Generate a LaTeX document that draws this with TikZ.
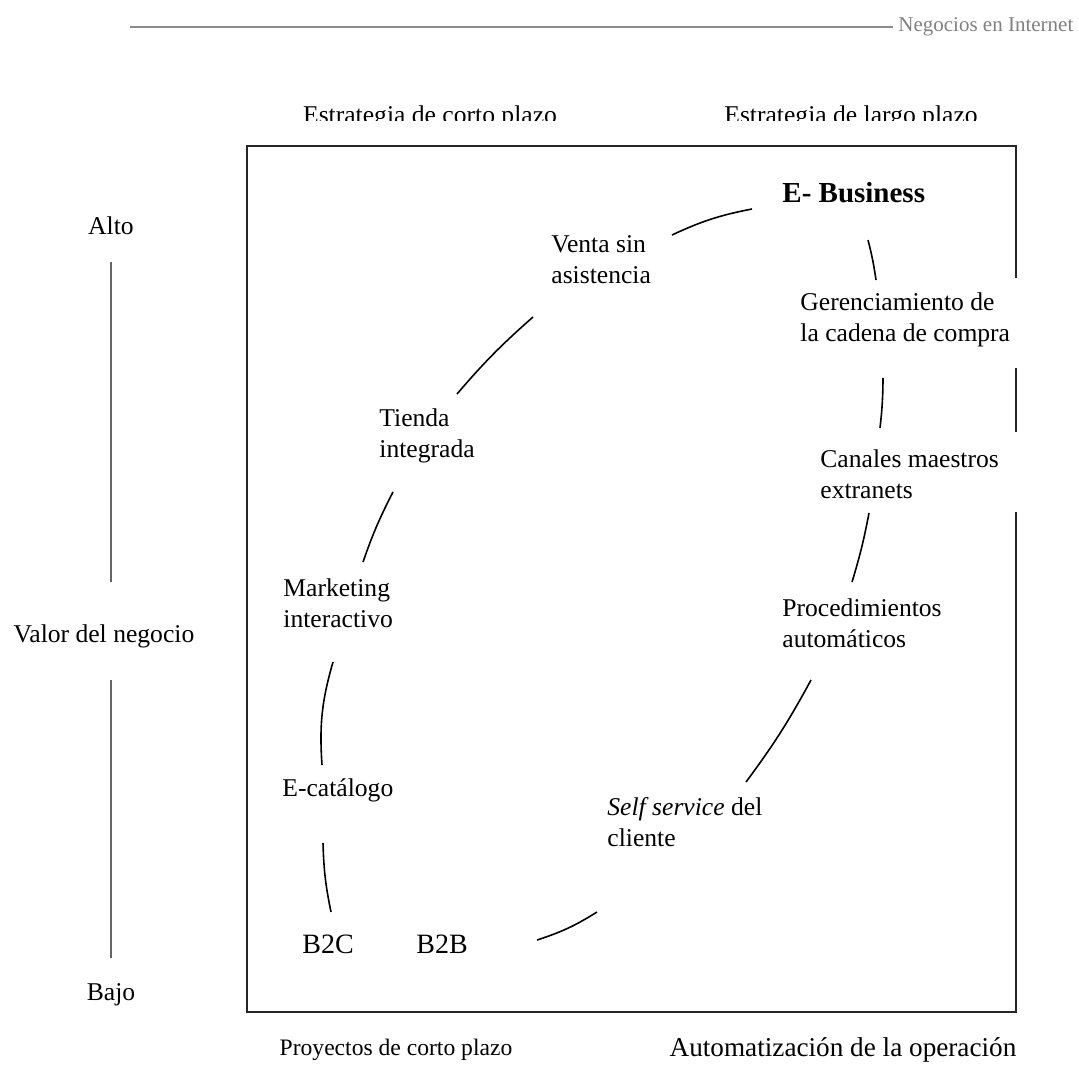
\documentclass[tikz,border=0pt]{standalone}
\usepackage{fontspec}
\setmainfont{Liberation Serif}
\usetikzlibrary{calc}
\tikzset{
  % plain text label, left aligned
  etiqueta/.style={anchor=west,inner sep=0pt,align=left,
    font=\fontsize{12.8}{15.5}\selectfont},
  % short arc between two stages
  tramo/.style={draw=black,line width=0.8pt},
  marco/.style={draw=black!85,line width=1.3pt},
  eje/.style={draw=black!60,line width=1.1pt},
}

\begin{document}
\begin{tikzpicture}[x=0.5pt,y=0.5pt]
\useasboundingbox (0,0) rectangle (1079,-1070);
% header
\draw[draw=black!45,line width=1pt] (130,-27) -- (893,-27);
\node[anchor=west,inner sep=0pt,text=black!50,font=\fontsize{10.5}{12}\selectfont]
  (cabecera) at (898,-27) {Negocios en Internet};
% frame with the gaps on the right
\path[marco] (1016,-278) -- (1016,-146) -- (247,-146) -- (247,-1012) -- (1016,-1012) -- (1016,-512);
\path[marco] (1016,-368) -- (1016,-432);
% top labels, cut at the bottom
\begin{scope}
  \clip (240,-90) rectangle (1020,-120.5);
  \node[anchor=base,inner sep=0pt,font=\fontsize{12.8}{15.5}\selectfont] (corto) at (430,-123) {Estrategia de corto plazo};
  \node[anchor=base,inner sep=0pt,font=\fontsize{12.8}{15.5}\selectfont] (largo) at (851,-123) {Estrategia de largo plazo};
\end{scope}
% value axis
\node[inner sep=0pt,font=\fontsize{12.8}{15.5}\selectfont] (alto) at (111,-226) {Alto};
\node[inner sep=0pt,font=\fontsize{12.8}{15.5}\selectfont] (valor) at (104,-636) {Valor del negocio};
\node[inner sep=0pt,font=\fontsize{12.8}{15.5}\selectfont] (bajo) at (111,-995) {Bajo};
\path[eje] (111,-262) -- (111,-582);
\path[eje] (111,-680) -- (111,-958);
% stages
\node[etiqueta,font=\fontsize{14.5}{17}\selectfont\bfseries] (ebiz) at (782,-193) {E- Business};
\node[etiqueta] (venta) at (551,-260) {Venta sin\\asistencia};
\node[etiqueta] (ger) at (800,-320) {Gerenciamiento de\\la cadena de compra};
\node[etiqueta] (tienda) at (379,-436) {Tienda\\integrada};
\node[etiqueta] (canales) at (820,-474) {Canales maestros\\extranets};
\node[etiqueta] (mkt) at (283,-603) {Marketing\\interactivo};
\node[etiqueta] (proc) at (782,-623) {Procedimientos\\automáticos};
\node[etiqueta] (ecat) at (282,-790) {E-catálogo};
\node[etiqueta] (self) at (607,-822) {\textit{Self service} del\\cliente};
\node[etiqueta,font=\fontsize{14}{17}\selectfont] (b2c) at (302,-944) {B2C};
\node[etiqueta,font=\fontsize{14}{17}\selectfont] (b2b) at (416,-944) {B2B};
% left side of the loop
\draw[tramo] ([shift={(29,32)}]b2c.west) to[bend left=5] ([shift={(41,-53)}]ecat.west);
\draw[tramo] ([shift={(40,25)}]ecat.west) to[bend left=10] ([shift={(50,-59)}]mkt.west);
\draw[tramo] ([shift={(80,41)}]mkt.west) to[bend left=4] ([shift={(14,-56)}]tienda.west);
\draw[tramo] ([shift={(78,42)}]tienda.west) to[bend left=4] ([shift={(-18,-57)}]venta.west);
\draw[tramo] ([shift={(121,25)}]venta.west) to[bend left=7] ([shift={(-30,-16)}]ebiz.west);
% right side of the loop
\draw[tramo] ([shift={(121,4)}]b2b.west) to[bend right=7] ([shift={(-10,-90)}]self.west);
\draw[tramo] ([shift={(139,40)}]self.west) to[bend right=4] ([shift={(29,-57)}]proc.west);
\draw[tramo] ([shift={(70,41)}]proc.west) to[bend right=3] ([shift={(49,-39)}]canales.west);
\draw[tramo] ([shift={(60,46)}]canales.west) to[bend right=3] ([shift={(83,-58)}]ger.west);
\draw[tramo] ([shift={(76,40)}]ger.west) to[bend right=3] ([shift={(86,-47)}]ebiz.west);
% bottom labels
\node[inner sep=0pt,font=\fontsize{11.8}{14}\selectfont] (proyectos) at (396,-1050) {Proyectos de corto plazo};
\node[inner sep=0pt,font=\fontsize{13.6}{16}\selectfont] (automat) at (843,-1050) {Automatización de la operación};
\end{tikzpicture}
\end{document}
